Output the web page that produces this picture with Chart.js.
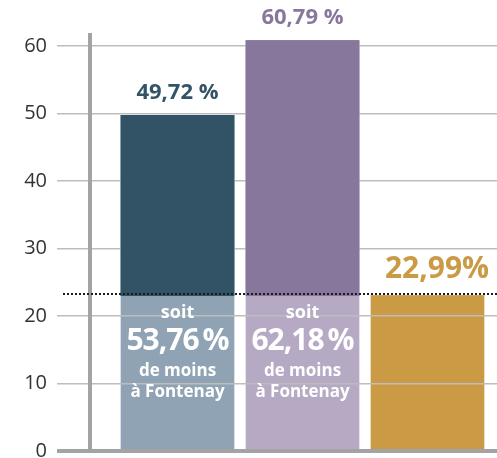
<!DOCTYPE html>
<html>
<head>
<meta charset="utf-8">
<script src="https://cdn.jsdelivr.net/npm/chart.js@4"></script>
<style>
html,body{margin:0;padding:0;background:#fff}
#wrap{width:497px;height:458px}
</style>
</head>
<body>
<div id="wrap"><canvas id="c" width="497" height="458"></canvas></div>
<script>
// ---- data ----
const categories = ['Référence 1', 'Référence 2', 'Fontenay'];
const values = [49.72, 60.79, 22.99];
const referenceValue = 22.99;
const valueLabels = ['49,72 %', '60,79 %', '22,99%'];
const differenceLabels = ['53,76\u2009%', '62,18\u2009%', null];
const differenceIntro = 'soit';
const differenceOutro = ['de moins', 'à Fontenay'];
const yTicks = [0, 10, 20, 30, 40, 50, 60];

// ---- styles ----
const darkColors = ['#325366', '#87779c', '#cb9a45'];
const lightColors = ['#8fa3b4', '#b5a9c4', '#cb9a45'];
const labelColors = ['#335366', '#87779c', '#cb9a45'];
const FONT = "'Open Sans', 'Noto Sans', sans-serif";

const baseData = values.map((v, i) => ({ x: i + 1, y: Math.min(v, referenceValue) }));
const topData = values.map((v, i) => ({ x: i + 1, y: Math.max(v - referenceValue, 0) }));

const overlay = {
  id: 'overlay',
  afterDraw(chart) {
    const { ctx, chartArea, scales } = chart;
    const y = scales.y;
    // keep the dark upper parts above the grid lines
    ctx.save();
    ctx.beginPath();
    ctx.rect(chartArea.left + 2, chartArea.top, chartArea.right - chartArea.left, chartArea.bottom - chartArea.top);
    ctx.clip();
    chart.getDatasetMeta(1).data.forEach(el => el.draw(ctx));
    ctx.restore();

    const refY = y.getPixelForValue(referenceValue);
    // dotted reference line
    ctx.save();
    ctx.setLineDash([2, 2]);
    ctx.lineWidth = 2;
    ctx.strokeStyle = '#1b1b1b';
    ctx.beginPath();
    ctx.moveTo(chartArea.left - 27, Math.round(refY) - 2);
    ctx.lineTo(chartArea.right, Math.round(refY) - 2);
    ctx.stroke();
    ctx.restore();

    const meta = chart.getDatasetMeta(0);
    ctx.save();
    ctx.textAlign = 'center';
    ctx.textBaseline = 'alphabetic';
    values.forEach((v, i) => {
      const bx = meta.data[i].x;
      const top = y.getPixelForValue(v);
      const big = i === 2;
      ctx.font = 'bold ' + (big ? 30 : 22) + 'px ' + FONT;
      ctx.fillStyle = labelColors[i];
      ctx.fillText(valueLabels[i], bx + (big ? 9.5 : 0), top - (big ? 18 : 16));
      if (differenceLabels[i]) {
        ctx.fillStyle = '#ffffff';
        ctx.font = 'bold 18px ' + FONT;
        ctx.fillText(differenceIntro, bx, refY + 22.6);
        ctx.font = 'bold 30px ' + FONT;
        ctx.letterSpacing = '-1px';
        ctx.fillText(differenceLabels[i], bx, refY + 54.3);
        ctx.letterSpacing = '0px';
        ctx.font = 'bold 17px ' + FONT;
        ctx.fillText(differenceOutro[0], bx, refY + 80.3);
        ctx.fillText(differenceOutro[1], bx, refY + 101.6);
      }
    });
    ctx.restore();
  }
};

new Chart(document.getElementById('c'), {
  type: 'bar',
  data: {
    datasets: [
      { label: 'base', data: baseData, backgroundColor: lightColors, barThickness: 113, borderWidth: 0 },
      { label: 'top', data: topData, backgroundColor: darkColors, barThickness: 113, borderWidth: 0 }
    ]
  },
  options: {
    responsive: false,
    animation: false,
    layout: { padding: { top: 35, bottom: 7, left: 0, right: 0 } },
    plugins: { legend: { display: false }, tooltip: { enabled: false } },
    scales: {
      x: { type: 'linear', stacked: true, offset: false, min: 0.3, max: 3.556, display: false },
      y: {
        stacked: true,
        min: 0,
        max: 61.6,
        afterBuildTicks: s => { s.ticks = yTicks.map(v => ({ value: v })); },
        afterFit: s => { s.width = 90; s.paddingTop = 0; s.paddingBottom = 0; },
        ticks: { font: { family: FONT, size: 20 }, color: '#333333', padding: 10 },
        grid: {
          z: 1,
          tickLength: 33,
          color: c => (c.tick && c.tick.value === 0) ? '#a3a3a3' : '#bdbdbd',
          lineWidth: c => (c.tick && c.tick.value === 0) ? 4 : 1.5
        },
        border: { display: true, color: '#a3a3a3', width: 4, z: 1 }
      }
    }
  },
  plugins: [overlay]
});
</script>
</body>
</html>
